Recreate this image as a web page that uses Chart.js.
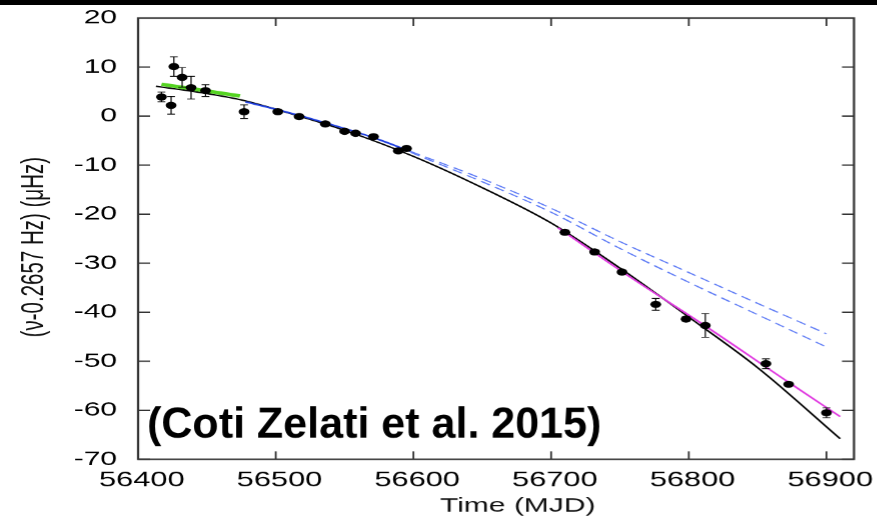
<!DOCTYPE html>
<html>
<head>
<meta charset="utf-8">
<script src="https://cdn.jsdelivr.net/npm/chart.js@4.4.1/dist/chart.umd.min.js"></script>
<style>
  body { margin: 0; background: #fff; width: 877px; height: 519px; overflow: hidden; }
  #topbar { position: absolute; left: 0; top: 0; width: 877px; height: 5px; background: #000; z-index: 2; }
  /* the original figure is stretched sideways, so draw narrow and widen */
  #wrap { position: absolute; left: 0; top: 0; transform: scaleX(1.5); transform-origin: 0 0; }
</style>
</head>
<body>
<div id="topbar"></div>
<div id="wrap"><canvas id="chart" width="585" height="519"></canvas></div>
<script>
//---------------------------------------------
// DATA
//---------------------------------------------
const xTicks = [56400, 56500, 56600, 56700, 56800, 56900];
const yTicks = [20, 10, 0, -10, -20, -30, -40, -50, -60, -70];

// timing measurements
const obsMjd = [56417, 56424, 56426, 56432, 56438.5, 56449, 56477, 56501.5, 56517, 56536, 56550, 56558,
                56571, 56589, 56595, 56710, 56731.6, 56751.5, 56776, 56798, 56812, 56856, 56872.5, 56900];
const obsNu  = [3.9, 2.2, 10.1, 7.9, 5.8, 5.2, 0.9, 0.9, -0.1, -1.6, -3.1, -3.5,
                -4.2, -7.1, -6.6, -23.7, -27.7, -31.8, -38.4, -41.4, -42.7, -50.5, -54.7, -60.5];
const obsErr = [1.0, 1.8, 2.0, 2.0, 2.3, 1.2, 1.4, 0.4, 0.3, 0.3, 0.3, 0.3,
                0.4, 0.4, 0.4, 0.4, 0.4, 0.4, 1.2, 0.5, 2.4, 1.0, 0.4, 1.0];

// global solution (black)
const blackMjd = [56413, 56450, 56475, 56500, 56550, 56600, 56650, 56700, 56750, 56800, 56850, 56910];
const blackNu  = [6.1, 4.6, 3.3, 1.4, -2.9, -8.2, -14.6, -21.8, -31.0, -41.0, -51.3, -65.8];

// early solution (blue) and its extrapolations (dashed)
const blueMjd = [56478, 56500, 56540, 56570, 56598];
const blueNu  = [2.9, 1.4, -1.7, -4.3, -7.2];
const dashMjd = [56598, 56650, 56700, 56750, 56800, 56850, 56900];
const dashUpNu = [-7.2, -12.8, -18.8, -25.6, -31.9, -38.2, -44.4];
const dashLoNu = [-7.4, -13.4, -19.6, -27.0, -33.9, -40.5, -47.1];

// late solution (magenta)
const magMjd = [56705, 56760, 56812, 56872, 56910];
const magNu  = [-22.8, -33.3, -42.8, -54.2, -61.3];

// first segment (green)
const greenMjd = [56417, 56474];
const greenNu  = [6.5, 4.1];

const xTitle = "Time (MJD)";
const yTitle = "(\u03bd-0.2657 Hz) (\u03bcHz)";
const noteText = "(Coti Zelati et al. 2015)";

function pts(xs, ys) {
    return xs.map((x, i) => ({ x: x, y: ys[i] }));
}

//---------------------------------------------
// FRAME, INWARD TICKS, ERROR BARS, TEXT
//---------------------------------------------
const framePlugin = {
    id: "frame",
    beforeDatasetDraw(chart, args) {
        if (args.index !== 0) return;
        const ctx = chart.ctx;
        const xs = chart.scales.x, ys = chart.scales.y;
        ctx.save();
        ctx.strokeStyle = "#000";
        ctx.lineWidth = 0.8;
        obsMjd.forEach((m, i) => {
            const px = xs.getPixelForValue(m);
            const top = ys.getPixelForValue(obsNu[i] + obsErr[i]);
            const bot = ys.getPixelForValue(obsNu[i] - obsErr[i]);
            ctx.beginPath();
            ctx.moveTo(px, top); ctx.lineTo(px, bot);
            ctx.moveTo(px - 2.6, top); ctx.lineTo(px + 2.6, top);
            ctx.moveTo(px - 2.6, bot); ctx.lineTo(px + 2.6, bot);
            ctx.stroke();
        });
        ctx.restore();
    },
    afterDraw(chart) {
        const ctx = chart.ctx;
        const a = chart.chartArea;
        const xs = chart.scales.x, ys = chart.scales.y;
        ctx.save();
        ctx.strokeStyle = "#333";
        ctx.lineWidth = 1.2;
        ctx.beginPath();
        xTicks.forEach(v => {
            const px = xs.getPixelForValue(v);
            ctx.moveTo(px, a.bottom); ctx.lineTo(px, a.bottom - 8);
            ctx.moveTo(px, a.top); ctx.lineTo(px, a.top + 8);
        });
        yTicks.forEach(v => {
            const py = ys.getPixelForValue(v);
            ctx.moveTo(a.left, py); ctx.lineTo(a.left + 8, py);
            ctx.moveTo(a.right, py); ctx.lineTo(a.right - 8, py);
        });
        ctx.stroke();
        ctx.lineWidth = 1.5;
        ctx.strokeRect(a.left, a.top, a.right - a.left, a.bottom - a.top);

        // axis titles, both sit a little off centre in the original
        ctx.fillStyle = "#111";
        ctx.textAlign = "center";
        ctx.textBaseline = "middle";
        ctx.font = "20px 'Liberation Sans', Arial, sans-serif";
        ctx.fillText(xTitle, 345, 506);
        ctx.translate(23, 247);
        ctx.rotate(-Math.PI / 2);
        ctx.font = "20.5px 'Liberation Sans', Arial, sans-serif";
        ctx.fillText(yTitle, 0, 0);
        ctx.restore();

        // the label is not stretched in the original
        ctx.save();
        ctx.setTransform(1, 0, 0, 1.5, 0, 0);
        ctx.font = "bold 43px 'Liberation Sans', Arial, sans-serif";
        ctx.fillStyle = "#000";
        ctx.textBaseline = "alphabetic";
        ctx.fillText(noteText, 147, 437);
        ctx.restore();
    }
};

//---------------------------------------------
// CHART
//---------------------------------------------
const lineStyle = { showLine: true, pointRadius: 0, fill: false, cubicInterpolationMode: "monotone" };
const tickFont = { family: "'Liberation Sans', Arial", size: 20 };

new Chart(document.getElementById("chart"), {
    type: "scatter",
    data: {
        datasets: [
            { label: "data", data: pts(obsMjd, obsNu), pointRadius: 3.6, pointBackgroundColor: "#000",
              pointBorderColor: "#000", pointBorderWidth: 0 },
            { label: "green", data: pts(greenMjd, greenNu), ...lineStyle, borderColor: "#55d422", borderWidth: 3.5 },
            { label: "blue", data: pts(blueMjd, blueNu), ...lineStyle, borderColor: "#1f3fdf", borderWidth: 1.6 },
            { label: "magenta", data: pts(magMjd, magNu), ...lineStyle, borderColor: "#e03ae0", borderWidth: 1.5 },
            { label: "black", data: pts(blackMjd, blackNu), ...lineStyle, borderColor: "#000", borderWidth: 1.4 },
            { label: "dashUp", data: pts(dashMjd, dashUpNu), ...lineStyle, borderColor: "#5a78f5", borderWidth: 1.1, borderDash: [7, 4] },
            { label: "dashLo", data: pts(dashMjd, dashLoNu), ...lineStyle, borderColor: "#5a78f5", borderWidth: 1.1, borderDash: [7, 4] }
        ]
    },
    options: {
        responsive: false,
        devicePixelRatio: 1.5,
        animation: false,
        layout: { padding: { top: 18, right: 16, left: 0, bottom: 0 } },
        plugins: { legend: { display: false }, tooltip: { enabled: false } },
        scales: {
            x: {
                type: "linear",
                min: 56400,
                max: 56920,
                afterBuildTicks: s => { s.ticks = xTicks.map(v => ({ value: v })); },
                afterFit: s => { s.height = 60; s.paddingLeft = 0; s.paddingRight = 0; },
                grid: { display: false, drawTicks: false },
                border: { display: false },
                ticks: { padding: 9, labelOffset: 2.5, color: "#000", font: { family: "'Liberation Sans', Arial", size: 20.5 },
                         maxRotation: 0, callback: v => String(v) }
            },
            y: {
                type: "linear",
                min: -70,
                max: 20,
                afterBuildTicks: s => { s.ticks = yTicks.map(v => ({ value: v })); },
                afterFit: s => { s.width = 92; s.paddingTop = 0; s.paddingBottom = 0; },
                grid: { display: false, drawTicks: false },
                border: { display: false },
                ticks: { padding: 14, color: "#000", font: tickFont, callback: v => String(v) }
            }
        }
    },
    plugins: [framePlugin]
});
</script>
</body>
</html>
